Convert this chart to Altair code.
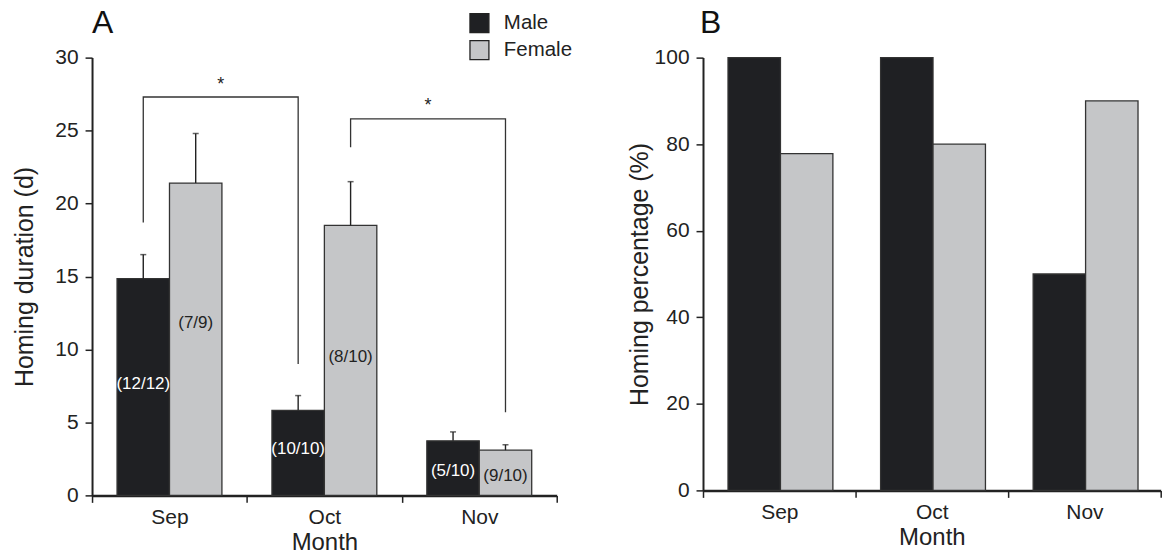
import altair as alt
import pandas as pd

# ---------------- data ----------------
months = ["Sep", "Oct", "Nov"]
sexes = ["Male", "Female"]

# Panel A: homing duration (d), bar height and upper end of error bar
dur_male = [14.85, 5.83, 3.74]
dur_female = [21.4, 18.5, 3.1]
upper_male = [16.5, 6.84, 4.35]
upper_female = [24.8, 21.5, 3.47]
count_male = ["(12/12)", "(10/10)", "(5/10)"]
count_female = ["(7/9)", "(8/10)", "(9/10)"]
count_y_male = [7.6, 3.2, 1.7]
count_y_female = [11.8, 9.5, 1.35]

# significance brackets (panel A)
br_from = [("Sep", "Male"), ("Oct", "Female")]
br_to = [("Oct", "Male"), ("Nov", "Female")]
br_left_y = [18.7, 23.85]
br_top_y = [27.3, 25.8]
br_right_y = [9.0, 5.7]
br_star_y = [28.1, 26.7]
br_label = ["*", "*"]

# Panel B: homing percentage (%)
pct_male = [100, 100, 50]
pct_female = [77.8, 80, 90]

panel_letters = ["A", "B"]

# ---------------- styling ----------------
FONT = "Liberation Sans"
MALE = "#1f2023"
FEMALE = "#c5c6c8"
INK = "#222222"
OUTER = 0.477  # xOffset outer padding (fraction of a bar step)
STEP = 1.0 / (2 + 2 * OUTER)


def center(month, sex):
    i = months.index(month)
    k = sexes.index(sex)
    return i + 0.5 + (k - 0.5) * STEP


# ---------------- tables ----------------
rows_a = []
for i, m in enumerate(months):
    rows_a.append(dict(Month=m, Sex="Male", Value=dur_male[i], Upper=upper_male[i],
                       Label=count_male[i], LabelY=count_y_male[i], X=center(m, "Male")))
    rows_a.append(dict(Month=m, Sex="Female", Value=dur_female[i], Upper=upper_female[i],
                       Label=count_female[i], LabelY=count_y_female[i], X=center(m, "Female")))
df_a = pd.DataFrame(rows_a)

rows_b = []
for i, m in enumerate(months):
    rows_b.append(dict(Month=m, Sex="Male", Value=pct_male[i]))
    rows_b.append(dict(Month=m, Sex="Female", Value=pct_female[i]))
df_b = pd.DataFrame(rows_b)

br_rows = []
star_rows = []
for j in range(len(br_from)):
    x1 = center(*br_from[j])
    x2 = center(*br_to[j])
    pts = [(x1, br_left_y[j]), (x1, br_top_y[j]), (x2, br_top_y[j]), (x2, br_right_y[j])]
    for s, (x, y) in enumerate(pts):
        br_rows.append(dict(id=j, seq=s, X=x, Y=y))
    star_rows.append(dict(X=(x1 + x2) / 2, Y=br_star_y[j], T=br_label[j]))
df_br = pd.DataFrame(br_rows)
df_star = pd.DataFrame(star_rows)

qx = alt.X("X:Q", scale=alt.Scale(domain=[0, 3], nice=False, zero=False), axis=None)


def x_band(title):
    return alt.X("Month:N", sort=months,
                 scale=alt.Scale(paddingInner=0, paddingOuter=0),
                 axis=alt.Axis(title=title, labelAngle=0, tickBand="extent", tickSize=7,
                               tickWidth=1.5, tickColor=INK, domainColor=INK, domainWidth=2.5,
                               labelFontSize=21, labelPadding=4, labelColor=INK,
                               titleFontSize=24, titleFontWeight="normal", titlePadding=3,
                               titleColor=INK))


x_off = alt.XOffset("Sex:N", sort=sexes, scale=alt.Scale(paddingOuter=OUTER, paddingInner=0))


def y_axis(title, values, pad):
    return alt.Axis(title=title, values=values, grid=False, tickSize=7, tickWidth=1.5,
                    tickColor=INK, domainColor=INK, domainWidth=2, labelFontSize=21,
                    labelPadding=7, labelColor=INK, titleFontSize=25, titleFontWeight="normal",
                    titlePadding=pad, titleColor=INK)


def letter(k, dx, dy):
    return alt.Chart(pd.DataFrame({"t": [panel_letters[k]]})).mark_text(
        fontSize=32, align="left", baseline="alphabetic", color="#111111"
    ).encode(text="t:N", x=alt.value(dx), y=alt.value(dy))


# ---------------- panel A ----------------
bars_a = alt.Chart(df_a).mark_bar(stroke="#333333", strokeWidth=1.3).encode(
    x=x_band("Month"),
    xOffset=x_off,
    y=alt.Y("Value:Q", scale=alt.Scale(domain=[0, 30], nice=False),
            axis=y_axis("Homing duration (d)", [0, 5, 10, 15, 20, 25, 30], 17)),
    color=alt.Color("Sex:N", sort=sexes, scale=alt.Scale(domain=sexes, range=[MALE, FEMALE]),
                    legend=alt.Legend(title=None, orient="none", legendX=378, legendY=-45,
                                      symbolType="square", symbolSize=361,
                                      symbolStrokeColor="#222222", symbolStrokeWidth=1.3,
                                      labelFontSize=20.5, labelColor=INK, labelOffset=14,
                                      rowPadding=2, padding=0)),
)

err = alt.Chart(df_a).mark_rule(color=INK, strokeWidth=1.4).encode(
    x=qx, y=alt.Y("Value:Q"), y2="Upper:Q")
caps = alt.Chart(df_a).mark_tick(color=INK, orient="horizontal", size=6, thickness=1.5).encode(
    x=qx, y=alt.Y("Upper:Q"))
labels_m = alt.Chart(df_a).transform_filter(alt.datum.Sex == "Male").mark_text(
    color="white", fontSize=17, baseline="middle").encode(x=qx, y=alt.Y("LabelY:Q"), text="Label:N")
labels_f = alt.Chart(df_a).transform_filter(alt.datum.Sex == "Female").mark_text(
    color=INK, fontSize=17, baseline="middle").encode(x=qx, y=alt.Y("LabelY:Q"), text="Label:N")
brackets = alt.Chart(df_br).mark_line(color="#333333", strokeWidth=1.3).encode(
    x=qx, y=alt.Y("Y:Q"), detail="id:N", order="seq:Q")
stars = alt.Chart(df_star).mark_text(color=INK, fontSize=18, baseline="middle").encode(
    x=qx, y=alt.Y("Y:Q"), text="T:N")

panel_a = alt.layer(bars_a, err, caps, brackets, stars, labels_m, labels_f,
                    letter(0, 0, -25)).resolve_scale(x="independent").properties(
    width=466, height=439)

# ---------------- panel B ----------------
bars_b = alt.Chart(df_b).mark_bar(stroke="#333333", strokeWidth=1.3).encode(
    x=x_band("Month"),
    xOffset=x_off,
    y=alt.Y("Value:Q", scale=alt.Scale(domain=[0, 100], nice=False),
            axis=y_axis("Homing percentage (%)", [0, 20, 40, 60, 80, 100], 2)),
    color=alt.Color("Sex:N", sort=sexes, scale=alt.Scale(domain=sexes, range=[MALE, FEMALE]),
                    legend=None),
)

panel_b = alt.layer(bars_b, letter(1, -3, -25)).properties(width=459, height=434)

chart = alt.hconcat(panel_a, panel_b, spacing=53.7).resolve_scale(color="independent").configure(
    font=FONT, padding={"left": 12.3, "top": 6, "right": 0, "bottom": 0}
).configure_view(stroke=None)

chart.save("out.html", embed_options={"renderer": "svg", "actions": False})
